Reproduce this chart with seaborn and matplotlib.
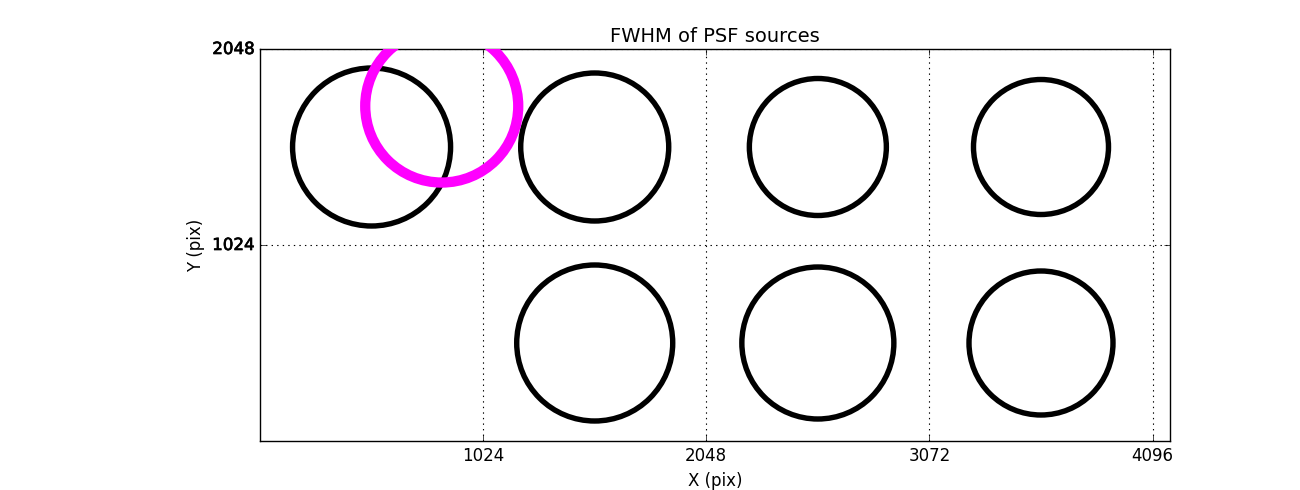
import matplotlib
matplotlib.use("Agg")
import matplotlib.pyplot as plt
import matplotlib.patheffects as pe
import seaborn as sns
import pandas as pd

# --- data ---
src_x = [512, 1536, 2560, 3584, 1536, 2560, 3584]
src_y = [1536, 1536, 1536, 1536, 512, 512, 512]
src_fwhm = [158, 148, 137, 135, 156, 152, 144]

ref_x = [834]
ref_y = [1750]
ref_fwhm = [153]

x_ticks = [1024, 2048, 3072, 4096]
y_ticks = [1024, 2048]

plt.style.use("classic")
plt.rcParams["font.family"] = ["DejaVu Sans"]

fig = plt.figure(figsize=(13, 4.9), dpi=100, facecolor="white")
ax = fig.add_axes([0.2, 0.1, 0.7, 0.8])

PX2PT = 72.0 / 100.0
df_src = pd.DataFrame({"x": src_x, "y": src_y,
                       "s": [(f * PX2PT) ** 2 for f in src_fwhm]})
df_ref = pd.DataFrame({"x": ref_x, "y": ref_y,
                       "s": [(f * PX2PT) ** 2 for f in ref_fwhm]})

sns.scatterplot(data=df_src, x="x", y="y", s=df_src["s"].values, ax=ax,
                color="black", facecolor="none", edgecolor="black",
                linewidth=3.9, legend=False, zorder=3)
sns.scatterplot(data=df_ref, x="x", y="y", s=df_ref["s"].values, ax=ax,
                color="magenta", facecolor="none", edgecolor="magenta",
                linewidth=7.4, legend=False, zorder=4)

ax.set_xlim(0, 4176)
ax.set_ylim(0, 2048)
ax.set_xticks(x_ticks)
ax.set_yticks(y_ticks)
ax.set_xticklabels([str(t) for t in x_ticks], fontsize=12)
ax.set_yticklabels([str(t) for t in y_ticks], fontsize=12)
for lab in ax.get_yticklabels():
    lab.set_path_effects([pe.withStroke(linewidth=0.5, foreground="black")])
ax.grid(True, linestyle=":", color="black", linewidth=0.8)
ax.set_axisbelow(True)
ax.set_xlabel("X (pix)", fontsize=12)
ax.set_ylabel("Y (pix)", fontsize=12)
ax.set_title("FWHM of PSF sources", fontsize=14)
ax.set_facecolor("white")

fig.savefig("out.png", dpi=100, facecolor="white")
